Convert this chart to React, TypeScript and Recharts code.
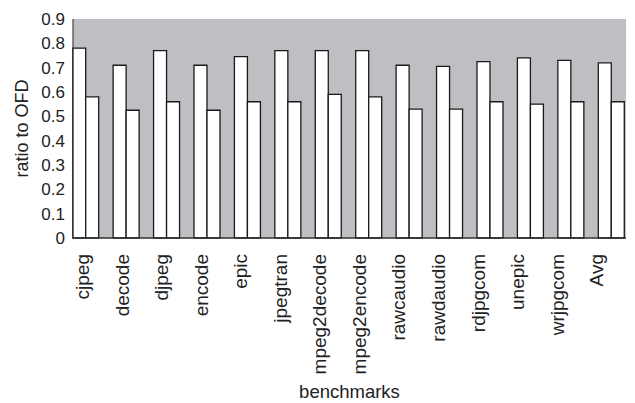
import { BarChart, Bar, XAxis, YAxis, CartesianGrid } from "recharts";

// benchmark names along the x axis
const categories = [
  "cjpeg", "decode", "djpeg", "encode", "epic", "jpegtran", "mpeg2decode",
  "mpeg2encode", "rawcaudio", "rawdaudio", "rdjpgcom", "unepic", "wrjpgcom", "Avg",
];
// left (taller) bar of each pair
const firstSeries = [0.78, 0.71, 0.77, 0.71, 0.745, 0.77, 0.77, 0.77, 0.71, 0.705, 0.725, 0.74, 0.73, 0.72];
// right (shorter) bar of each pair
const secondSeries = [0.58, 0.525, 0.56, 0.525, 0.56, 0.56, 0.59, 0.58, 0.53, 0.53, 0.56, 0.55, 0.56, 0.56];
const yTicks = [0, 0.1, 0.2, 0.3, 0.4, 0.5, 0.6, 0.7, 0.8, 0.9];

const data = categories.map((name, i) => ({ name, a: firstSeries[i], b: secondSeries[i] }));

const FONT = "'Liberation Sans', Arial, sans-serif";

function NameTick({ x, y, payload }: any) {
  return (
    <text
      x={x}
      y={y}
      transform={`rotate(-90, ${x}, ${y})`}
      textAnchor="end"
      dy="0.26em"
      fontSize={19}
      fontFamily={FONT}
      fill="#222"
    >
      {payload.value}
    </text>
  );
}

export default function App() {
  return (
    <div style={{ position: "absolute", left: 0, top: 0, background: "#fff" }}>
      <BarChart
        width={635}
        height={403}
        data={data}
        margin={{ top: 19, right: 9, bottom: 0, left: 0 }}
        barCategoryGap={7.7}
        barGap={0}
      >
        <CartesianGrid fill="#bebfc3" stroke="none" horizontal={false} vertical={false} />
        <XAxis xAxisId="bars" dataKey="name" hide height={0} padding={{ left: -8, right: -5 }} />
        <XAxis
          xAxisId="names"
          dataKey="name"
          height={165}
          interval={0}
          padding={{ left: -8.5, right: 8 }}
          tickLine={false}
          tickMargin={10}
          tick={<NameTick />}
          axisLine={{ stroke: "#333", strokeWidth: 1.5 }}
          label={{
            value: "benchmarks",
            position: "insideBottom",
            offset: 5,
            style: { fontSize: 18.5, fontFamily: FONT, fill: "#222" },
          }}
        />
        <YAxis
          width={73}
          domain={[0, 0.9]}
          ticks={yTicks}
          interval={0}
          tickLine={false}
          axisLine={{ stroke: "#444", strokeWidth: 1.2 }}
          tick={{ fontSize: 17, fontFamily: FONT, fill: "#222" }}
          label={{
            value: "ratio to OFD",
            angle: -90,
            position: "insideLeft",
            offset: 22,
            style: { fontSize: 18, fontFamily: FONT, fill: "#222", textAnchor: "middle" },
          }}
        />
        <Bar xAxisId="bars" dataKey="a" fill="#fff" stroke="#1a1a1a" strokeWidth={1.3} isAnimationActive={false} />
        <Bar xAxisId="bars" dataKey="b" fill="#fff" stroke="#1a1a1a" strokeWidth={1.3} isAnimationActive={false} />
      </BarChart>
    </div>
  );
}
